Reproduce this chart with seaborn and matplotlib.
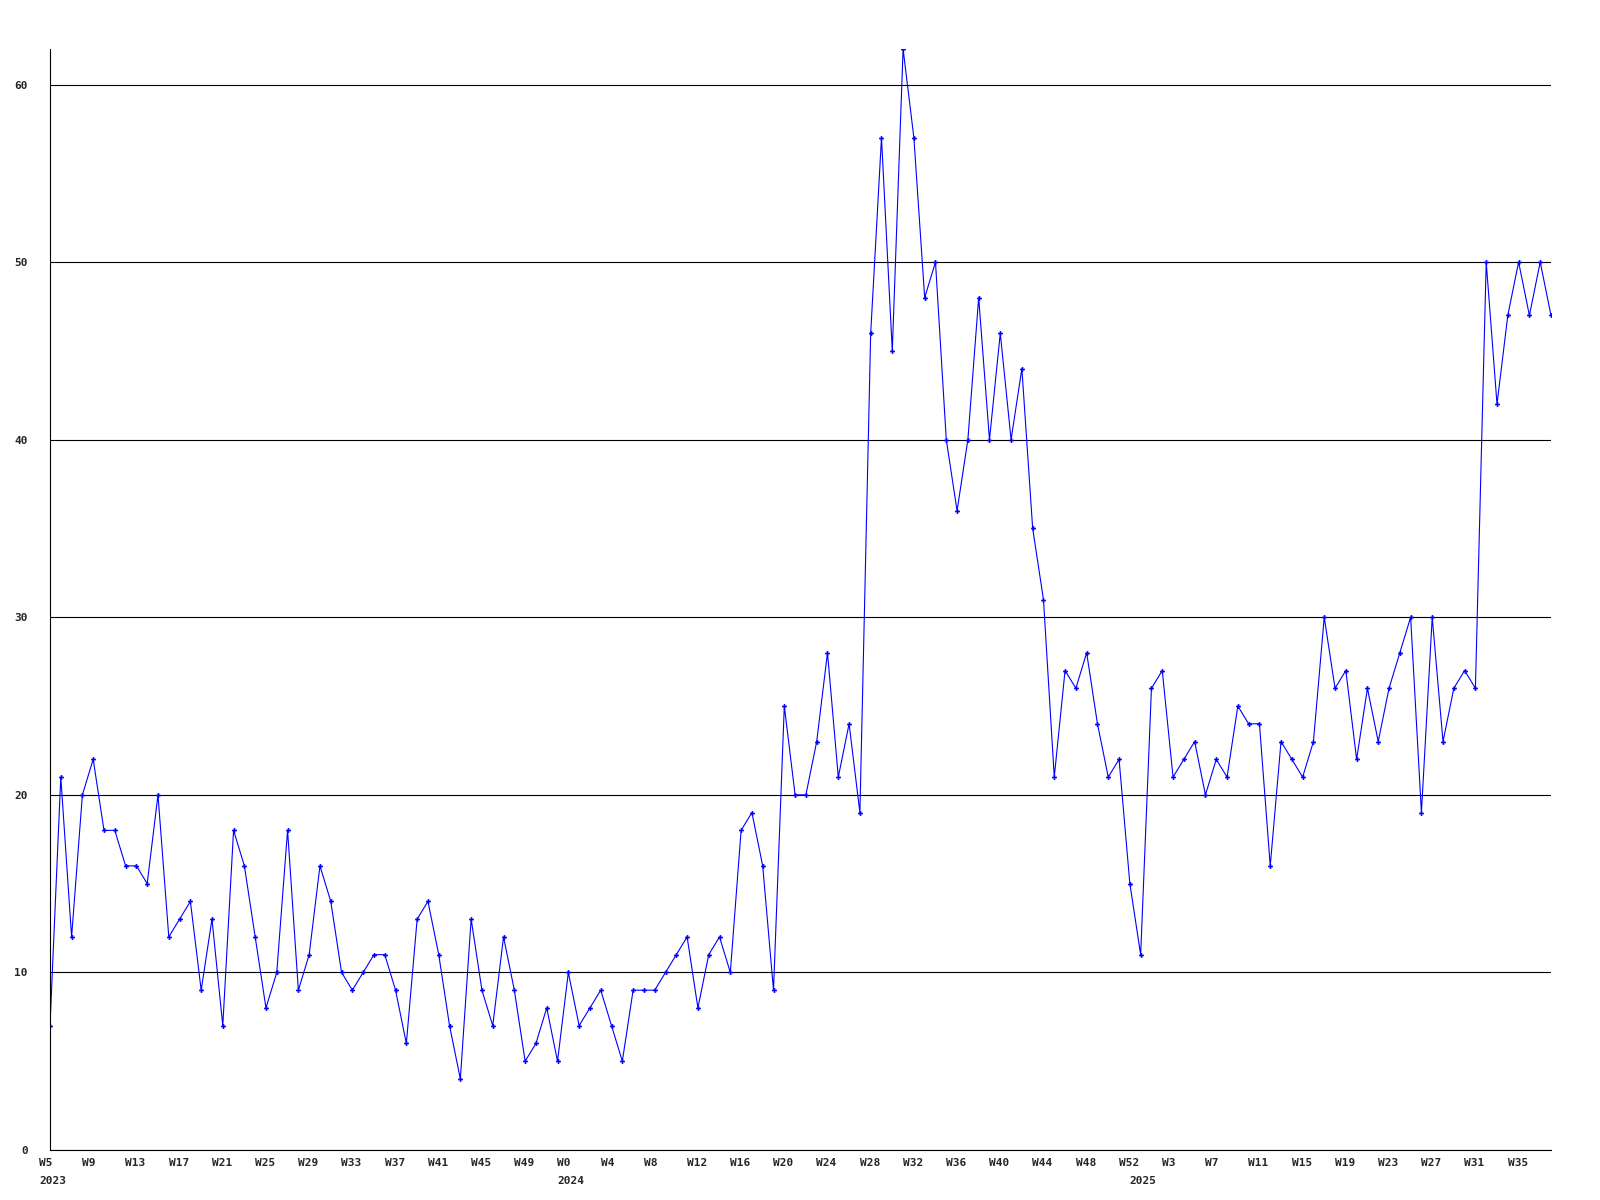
import matplotlib
matplotlib.use('Agg')
import matplotlib.pyplot as plt
import matplotlib.transforms as mtransforms
import seaborn as sns
import pandas as pd

# weekly counts
weeks_2023 = list(range(5, 53))
counts_2023 = [7, 21, 12, 20, 22, 18, 18, 16, 16, 15, 20, 12, 13, 14, 9, 13, 7, 18, 16, 12,
               8, 10, 18, 9, 11, 16, 14, 10, 9, 10, 11, 11, 9, 6, 13, 14, 11, 7, 4, 13,
               9, 7, 12, 9, 5, 6, 8, 5]
weeks_2024 = list(range(0, 53))
counts_2024 = [10, 7, 8, 9, 7, 5, 9, 9, 9, 10, 11, 12, 8, 11, 12, 10, 18, 19, 16, 9,
               25, 20, 20, 23, 28, 21, 24, 19, 46, 57, 45, 62, 57, 48, 50, 40, 36, 40, 48, 40,
               46, 40, 44, 35, 31, 21, 27, 26, 28, 24, 21, 22, 15]
weeks_2025 = list(range(0, 39))
counts_2025 = [11, 26, 27, 21, 22, 23, 20, 22, 21, 25, 24, 24, 16, 23, 22, 21, 23, 30, 26, 27,
               22, 26, 23, 26, 28, 30, 19, 30, 23, 26, 27, 26, 50, 42, 47, 50, 47, 50, 47]

df = pd.DataFrame({
    'year': [2023] * len(weeks_2023) + [2024] * len(weeks_2024) + [2025] * len(weeks_2025),
    'week': weeks_2023 + weeks_2024 + weeks_2025,
    'count': counts_2023 + counts_2024 + counts_2025,
})
df['pos'] = range(len(df))

sns.set_style('white')
plt.rcParams['font.family'] = ['DejaVu Sans Mono']
plt.rcParams['font.weight'] = 'bold'

fig = plt.figure(figsize=(16, 12), dpi=100)
ax = fig.add_axes([50 / 1600, 50 / 1200, 1501 / 1600, 1101 / 1200])

sns.lineplot(data=df, x='pos', y='count', color='#0000ff', lw=0.8, marker='P',
             markersize=3.5, markeredgewidth=0, ax=ax)

ax.set_xlim(0, len(df) - 1)
ax.set_ylim(0, 62)
ax.set_yticks(range(0, 70, 10))
ax.yaxis.grid(True, color='black', lw=0.8)
ax.xaxis.grid(False)
ax.set_axisbelow(True)
ax.set_xlabel('')
ax.set_ylabel('')

for side in ['top', 'right']:
    ax.spines[side].set_visible(False)
for side in ['left', 'bottom']:
    ax.spines[side].set_color('black')
    ax.spines[side].set_linewidth(0.8)

# week labels every 4 weeks, year label at first week of each year
major = df.iloc[::4]
ax.set_xticks(major['pos'])
ax.set_xticklabels(['W%d' % w for w in major['week']])
firsts = df.groupby('year').head(1)
ax.set_xticks(firsts['pos'], minor=True)
ax.set_xticklabels([str(y) for y in firsts['year']], minor=True)
ax.xaxis.remove_overlapping_locs = False

ax.tick_params(axis='x', which='major', length=0, pad=6, labelsize=8)
ax.tick_params(axis='x', which='minor', length=0, pad=19, labelsize=8)
ax.tick_params(axis='y', length=0, pad=16, labelsize=8)

offset = mtransforms.ScaledTranslation(-11 / 100, 0, fig.dpi_scale_trans)
for lab in ax.get_xticklabels(which='both'):
    lab.set_ha('left')
    lab.set_transform(lab.get_transform() + offset)

fig.savefig('out.png', dpi=100, facecolor='white')
